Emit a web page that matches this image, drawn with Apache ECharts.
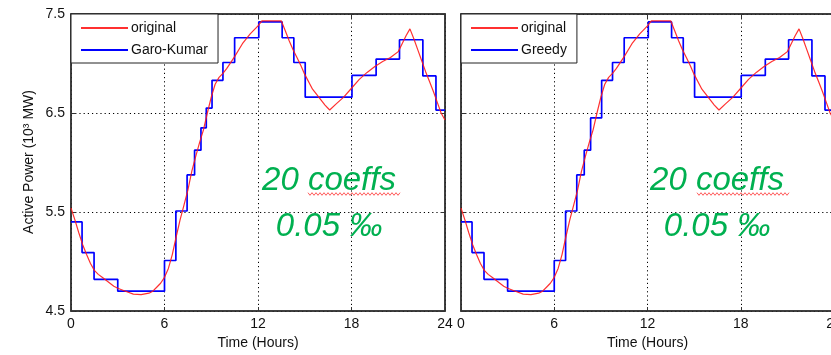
<!DOCTYPE html>
<html>
<head>
<meta charset="utf-8">
<script src="https://cdn.jsdelivr.net/npm/echarts@6/dist/echarts.min.js"></script>
<style>html,body{margin:0;padding:0;background:#fff;}#c{width:831px;height:355px;}</style>
</head>
<body>
<div id="c"></div>
<script>
// ---- data ----
const hours = [0,0.25,0.5,0.75,1,1.25,1.5,1.75,2,2.25,2.5,2.75,3,3.5,4,4.5,5,5.25,5.5,5.75,6,6.25,6.5,6.75,7,7.25,7.5,7.75,8,8.25,8.5,8.75,9,9.25,9.5,9.75,10,10.5,11,11.5,12,12.25,13.5,13.75,14,14.25,14.5,14.75,15,15.5,16,16.3,16.6,17,17.5,18,18.5,19,19.5,20,20.5,21,21.25,21.5,21.75,22,22.25,22.5,22.75,23,23.25,23.5,23.75,24];
const original = [5.54,5.42,5.29,5.17,5.07,4.98,4.91,4.87,4.84,4.81,4.78,4.75,4.73,4.70,4.67,4.665,4.68,4.70,4.74,4.78,4.84,4.93,5.07,5.25,5.42,5.57,5.72,5.91,6.06,6.20,6.33,6.50,6.66,6.79,6.86,6.90,6.95,7.07,7.20,7.30,7.38,7.43,7.43,7.33,7.23,7.14,7.06,6.98,6.89,6.74,6.64,6.58,6.53,6.59,6.66,6.75,6.84,6.91,6.97,7.02,7.06,7.12,7.20,7.28,7.35,7.25,7.14,7.03,6.92,6.82,6.72,6.61,6.50,6.43];
const gkBreaks = [0,0.71,1.48,3.0,6.0,6.73,7.45,7.93,8.34,8.68,9.05,9.75,10.5,12.05,13.55,14.3,15.03,18.03,19.58,21.08,22.58,23.42,24];
const gkValues = [5.40,5.09,4.82,4.70,5.01,5.51,5.875,6.125,6.35,6.55,6.83,7.01,7.26,7.42,7.26,7.01,6.66,6.88,7.045,7.24,6.875,6.53,6.53];
const grBreaks = [0,0.71,1.48,3.0,6.0,6.73,7.45,7.93,8.34,9.05,9.75,10.5,12.05,13.55,14.3,15.03,18.03,19.58,21.08,22.58,23.42,24];
const grValues = [5.40,5.09,4.82,4.70,5.01,5.51,5.875,6.125,6.45,6.83,7.01,7.26,7.42,7.26,7.01,6.66,6.88,7.045,7.24,6.875,6.53,6.53];
const xLabel = 'Time (Hours)';
const yLabel = 'Active Power (10³ MW)';
const note1 = '20 coeffs';
const note2 = '0.05 ‰';

function pairs(xs, ys){ return xs.map((x,i)=>[x, ys[i]]); }

const FONT = 'Liberation Sans';
const AX = '#333';
const grids = [
  {left:71, top:14, width:374, height:297},
  {left:461, top:14, width:373, height:297}
];
function xAx(gi, top){
  return {
    type:'value', gridIndex:gi, min:0, max:24, interval:6,
    position: top ? 'top' : 'bottom',
    axisLine:{show:true, onZero:false, lineStyle:{color:AX, width:1.5}},
    axisTick:{show:true, inside:true, length:4, lineStyle:{color:AX}},
    axisLabel:{show:!top, color:'#111', fontFamily:FONT, fontSize:14, margin:6},
    splitLine:{show:!top, lineStyle:{color:'#000', type:[1.2,3], width:1}},
    name: top ? '' : xLabel, nameLocation:'middle', nameGap:24,
    nameTextStyle:{color:'#111', fontFamily:FONT, fontSize:14}
  };
}
function yAx(gi, right, labels){
  return {
    type:'value', gridIndex:gi, min:4.5, max:7.5, interval:1,
    position: right ? 'right' : 'left',
    axisLine:{show:true, onZero:false, lineStyle:{color:AX, width:1.5}},
    axisTick:{show:true, inside:true, length:4, lineStyle:{color:AX}},
    axisLabel:{show:labels, color:'#111', fontFamily:FONT, fontSize:14, margin:6,
      formatter:v=>v.toFixed(1)},
    splitLine:{show:!right, lineStyle:{color:'#000', type:[1.2,3], width:1}}
  };
}
function legend(left, names){
  return {
    left:left, top:14, orient:'vertical', data:names,
    backgroundColor:'#fff', borderColor:'#222', borderWidth:1, borderRadius:0,
    padding:[7,10,6,9], itemWidth:47, itemHeight:14, itemGap:8,
    itemStyle:{opacity:0},
    textStyle:{color:'#111', fontFamily:FONT, fontSize:14, padding:[0,0,0,-2]},
    selectedMode:false, z:20
  };
}
function wavy(x0, x1, y){
  const pts=[]; let k=0;
  for(let x=x0; x<=x1; x+=2){ pts.push([x, y + (k%2? 1.3 : -1.3)]); k++; }
  return {type:'polyline', z:30, shape:{points:pts}, style:{stroke:'#ff5a5a', lineWidth:1, fill:null}};
}
function note(cx, y, txt){
  return {type:'text', z:30, x:cx, y:y, style:{text:txt, fill:'#00b050', font:'italic 33px "Liberation Sans"', textAlign:'center', textVerticalAlign:'middle'}};
}

const chart = echarts.init(document.getElementById('c'), null, {renderer:'canvas'});
chart.setOption({
  animation:false,
  backgroundColor:'#fff',
  grid: grids.map(g=>Object.assign({show:true, borderColor:AX, borderWidth:1.5, backgroundColor:'#fff', containLabel:false, outerBoundsMode:'none'}, g)),
  xAxis:[xAx(0,false), xAx(1,false), xAx(0,true), xAx(1,true)],
  yAxis:[yAx(0,false,true), yAx(1,false,false), yAx(0,true,false), yAx(1,true,false)],
  legend:[legend(71,['original','Garo-Kumar']), legend(461,['original','Greedy'])],
  series:[
    {name:'Garo-Kumar', type:'line', xAxisIndex:0, yAxisIndex:0, step:'end', symbol:'none',
     data:pairs(gkBreaks, gkValues), lineStyle:{color:'#0000ff', width:1.7}, itemStyle:{color:'#0000ff'}, z:3},
    {name:'original', type:'line', xAxisIndex:0, yAxisIndex:0, symbol:'none',
     data:pairs(hours, original), lineStyle:{color:'#ff1a1a', width:1.2, opacity:0.9}, itemStyle:{color:'#ff0000'}, z:4},
    {name:'Greedy', type:'line', xAxisIndex:1, yAxisIndex:1, step:'end', symbol:'none',
     data:pairs(grBreaks, grValues), lineStyle:{color:'#0000ff', width:1.7}, itemStyle:{color:'#0000ff'}, z:3},
    {name:'original', type:'line', xAxisIndex:1, yAxisIndex:1, symbol:'none',
     data:pairs(hours, original), lineStyle:{color:'#ff1a1a', width:1.2, opacity:0.9}, itemStyle:{color:'#ff0000'}, z:4}
  ],
  graphic:[
    {type:'text', z:30, x:29, y:162, rotation:Math.PI/2,
     style:{text:yLabel, fill:'#111', font:'14px "Liberation Sans"', textAlign:'center', textVerticalAlign:'middle'}},
    note(329, 181, note1), note(329, 227, note2),
    note(717, 181, note1), note(717, 227, note2),
    wavy(308, 401, 194), wavy(697, 790, 194)
  ]
});
</script>
</body>
</html>
